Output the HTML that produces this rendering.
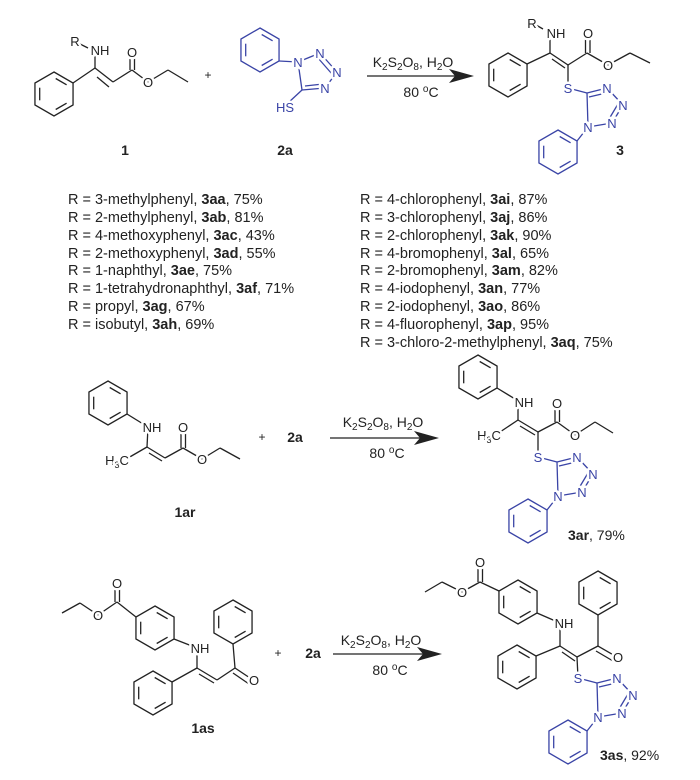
<!DOCTYPE html>
<html><head><meta charset="utf-8"><style>
html,body{margin:0;padding:0;background:#fff;}
svg{display:block;}
text{font-family:"Liberation Sans",sans-serif;}
.k line,.k polyline{stroke:#222;stroke-width:1.3;fill:none;}
.b line{stroke:#3a44a6;stroke-width:1.3;fill:none;}
.lab{font-size:13px;fill:#222;text-anchor:middle;paint-order:stroke;stroke:#fff;stroke-width:5px;stroke-linejoin:round;}
.bl{font-size:13px;fill:#3a44a6;text-anchor:middle;paint-order:stroke;stroke:#fff;stroke-width:5px;stroke-linejoin:round;}
.lst{font-size:14.5px;fill:#222;}
.cmp{font-size:14px;font-weight:bold;fill:#222;text-anchor:middle;}
.cond{font-size:14px;fill:#222;text-anchor:middle;}
</style></head><body>
<svg width="700" height="780" viewBox="0 0 700 780" xmlns="http://www.w3.org/2000/svg">
<defs>
<g id="bz">
<polygon points="0,-22 19.05,-11 19.05,11 0,22 -19.05,11 -19.05,-11" fill="none" stroke-width="1.3"/>
<line x1="1.7" y1="-15.5" x2="12.6" y2="-9.2" stroke-width="1.3"/>
<line x1="12.6" y1="9.2" x2="1.7" y2="15.5" stroke-width="1.3"/>
<line x1="-14.3" y1="6.3" x2="-14.3" y2="-6.3" stroke-width="1.3"/>
</g>
</defs>

<!-- ===== Compound 1 ===== -->
<g class="k">
<use href="#bz" transform="translate(54,94)" stroke="#222"/>
<line x1="73" y1="83" x2="95" y2="68"/>
<line x1="95" y1="68" x2="95" y2="50"/>
<line x1="80" y1="44" x2="88" y2="48"/>
<line x1="95" y1="68" x2="113" y2="82"/>
<line x1="99" y1="74" x2="111" y2="84" transform="translate(-2,3)"/>
<line x1="113" y1="82" x2="132" y2="70"/>
<line x1="130" y1="70" x2="130" y2="52"/><line x1="134.5" y1="70" x2="134.5" y2="52"/>
<line x1="132" y1="70" x2="148" y2="82"/>
<line x1="148" y1="82" x2="168" y2="70"/>
<line x1="168" y1="70" x2="188" y2="82"/>
</g>
<text class="lab" x="75" y="46">R</text>
<text class="lab" x="100" y="55">NH</text>
<text class="lab" x="132" y="57">O</text>
<text class="lab" x="148" y="87">O</text>
<text class="cond" x="208" y="79" style="font-size:12px">+</text>
<text class="cmp" x="125" y="155">1</text>

<!-- ===== 2a ===== -->
<g class="b">
<use href="#bz" transform="translate(260,50)" stroke="#3a44a6"/>
<line x1="279" y1="61" x2="298" y2="62"/>
<line x1="298" y1="62" x2="320" y2="53"/>
<line x1="320" y1="53" x2="337" y2="72"/><line x1="318" y1="58" x2="332" y2="74"/>
<line x1="337" y1="72" x2="325" y2="88"/>
<line x1="325" y1="88" x2="302" y2="90"/><line x1="323" y1="84" x2="305" y2="86"/>
<line x1="302" y1="90" x2="298" y2="62"/>
<line x1="302" y1="90" x2="288" y2="103"/>
</g>
<text class="bl" x="298" y="67">N</text>
<text class="bl" x="320" y="58">N</text>
<text class="bl" x="337" y="77">N</text>
<text class="bl" x="325" y="93">N</text>
<text class="bl" x="285" y="112">HS</text>
<text class="cmp" x="285" y="155">2a</text>

<!-- arrow 1 -->
<g class="k"><line x1="367" y1="76" x2="460" y2="76"/></g>
<polygon points="474,76 449,69 455,76 449,83" fill="#222"/>
<text class="cond" x="413" y="67">K<tspan font-size="10" dy="3">2</tspan><tspan dy="-3">S</tspan><tspan font-size="10" dy="3">2</tspan><tspan dy="-3">O</tspan><tspan font-size="10" dy="3">8</tspan><tspan dy="-3">, H</tspan><tspan font-size="10" dy="3">2</tspan><tspan dy="-3">O</tspan></text>
<text class="cond" x="421" y="97">80 <tspan font-size="10" dy="-5">o</tspan><tspan dy="5">C</tspan></text>

<!-- ===== Product 3 ===== -->
<g class="k">
<use href="#bz" transform="translate(508,75)" stroke="#222"/>
<line x1="527" y1="64" x2="550" y2="53"/>
<line x1="550" y1="53" x2="550" y2="35"/>
<line x1="536" y1="25" x2="543" y2="29"/>
<line x1="550" y1="53" x2="568" y2="65"/><line x1="552" y1="59" x2="565" y2="68"/>
<line x1="568" y1="65" x2="587" y2="53"/>
<line x1="585.5" y1="53" x2="585.5" y2="34"/><line x1="590" y1="53" x2="590" y2="34"/>
<line x1="587" y1="53" x2="608" y2="65"/>
<line x1="608" y1="65" x2="630" y2="53"/>
<line x1="630" y1="53" x2="650" y2="63"/>
<line x1="568" y1="65" x2="568" y2="88"/>
</g>
<text class="lab" x="532" y="28">R</text>
<text class="lab" x="556" y="38">NH</text>
<text class="lab" x="588" y="38">O</text>
<text class="lab" x="608" y="70">O</text>
<g transform="translate(568,88)">
<g class="b">
<line x1="0" y1="0" x2="19" y2="5"/>
<line x1="19" y1="5" x2="39" y2="0"/><line x1="21" y1="9" x2="38" y2="5"/>
<line x1="39" y1="0" x2="55" y2="17"/>
<line x1="55" y1="17" x2="44" y2="35"/><line x1="50" y1="16" x2="41" y2="31"/>
<line x1="44" y1="35" x2="20" y2="39"/>
<line x1="20" y1="39" x2="19" y2="5"/>
<line x1="20" y1="39" x2="9" y2="53"/>
<use href="#bz" transform="translate(-10,64)" stroke="#3a44a6"/>
</g>
<text class="bl" x="0" y="5">S</text>
<text class="bl" x="39" y="5">N</text>
<text class="bl" x="55" y="22">N</text>
<text class="bl" x="44" y="40">N</text>
<text class="bl" x="20" y="44">N</text>
</g>
<text class="cmp" x="620" y="155">3</text>

<!-- ===== List ===== -->
<g class="lst">
<text x="68" y="204">R = 3-methylphenyl, <tspan font-weight="bold">3aa</tspan>, 75%</text>
<text x="68" y="222">R = 2-methylphenyl, <tspan font-weight="bold">3ab</tspan>, 81%</text>
<text x="68" y="240">R = 4-methoxyphenyl, <tspan font-weight="bold">3ac</tspan>, 43%</text>
<text x="68" y="258">R = 2-methoxyphenyl, <tspan font-weight="bold">3ad</tspan>, 55%</text>
<text x="68" y="275">R = 1-naphthyl, <tspan font-weight="bold">3ae</tspan>, 75%</text>
<text x="68" y="293">R = 1-tetrahydronaphthyl, <tspan font-weight="bold">3af</tspan>, 71%</text>
<text x="68" y="311">R = propyl, <tspan font-weight="bold">3ag</tspan>, 67%</text>
<text x="68" y="329">R = isobutyl, <tspan font-weight="bold">3ah</tspan>, 69%</text>
<text x="360" y="204">R = 4-chlorophenyl, <tspan font-weight="bold">3ai</tspan>, 87%</text>
<text x="360" y="222">R = 3-chlorophenyl, <tspan font-weight="bold">3aj</tspan>, 86%</text>
<text x="360" y="240">R = 2-chlorophenyl, <tspan font-weight="bold">3ak</tspan>, 90%</text>
<text x="360" y="258">R = 4-bromophenyl, <tspan font-weight="bold">3al</tspan>, 65%</text>
<text x="360" y="275">R = 2-bromophenyl, <tspan font-weight="bold">3am</tspan>, 82%</text>
<text x="360" y="293">R = 4-iodophenyl, <tspan font-weight="bold">3an</tspan>, 77%</text>
<text x="360" y="311">R = 2-iodophenyl, <tspan font-weight="bold">3ao</tspan>, 86%</text>
<text x="360" y="329">R = 4-fluorophenyl, <tspan font-weight="bold">3ap</tspan>, 95%</text>
<text x="360" y="347">R = 3-chloro-2-methylphenyl, <tspan font-weight="bold">3aq</tspan>, 75%</text>
</g>

<!-- ===== 1ar ===== -->
<g class="k">
<use href="#bz" transform="translate(108,403)" stroke="#222"/>
<line x1="127" y1="414" x2="148" y2="427"/>
<line x1="148" y1="427" x2="147" y2="447"/>
<line x1="147" y1="447" x2="128" y2="458"/>
<line x1="147" y1="447" x2="165" y2="458"/><line x1="149" y1="453" x2="162" y2="461"/>
<line x1="165" y1="458" x2="183" y2="448"/>
<line x1="181" y1="448" x2="181" y2="428"/><line x1="185.5" y1="448" x2="185.5" y2="428"/>
<line x1="183" y1="448" x2="202" y2="459"/>
<line x1="202" y1="459" x2="220" y2="448"/>
<line x1="220" y1="448" x2="240" y2="459"/>
</g>
<text class="lab" x="152" y="432">NH</text>
<text class="lab" x="183" y="432">O</text>
<text class="lab" x="202" y="464">O</text>
<text class="lab" x="117" y="465">H<tspan font-size="9" dy="3">3</tspan><tspan dy="-3">C</tspan></text>
<text class="cond" x="262" y="441" style="font-size:12px">+</text>
<text class="cmp" x="295" y="442">2a</text>
<text class="cmp" x="185" y="517">1ar</text>

<g class="k"><line x1="330" y1="438" x2="425" y2="438"/></g>
<polygon points="439,438 414,431 420,438 414,445" fill="#222"/>
<text class="cond" x="383" y="427">K<tspan font-size="10" dy="3">2</tspan><tspan dy="-3">S</tspan><tspan font-size="10" dy="3">2</tspan><tspan dy="-3">O</tspan><tspan font-size="10" dy="3">8</tspan><tspan dy="-3">, H</tspan><tspan font-size="10" dy="3">2</tspan><tspan dy="-3">O</tspan></text>
<text class="cond" x="387" y="458">80 <tspan font-size="10" dy="-5">o</tspan><tspan dy="5">C</tspan></text>

<!-- ===== 3ar ===== -->
<g class="k">
<use href="#bz" transform="translate(478,377)" stroke="#222"/>
<line x1="497" y1="388" x2="520" y2="402"/>
<line x1="518" y1="402" x2="518" y2="420"/>
<line x1="518" y1="420" x2="500" y2="432"/>
<line x1="518" y1="420" x2="538" y2="432"/><line x1="520" y1="426" x2="535" y2="435"/>
<line x1="538" y1="432" x2="557" y2="422"/>
<line x1="555" y1="422" x2="555" y2="404"/><line x1="559.5" y1="422" x2="559.5" y2="404"/>
<line x1="557" y1="422" x2="575" y2="435"/>
<line x1="575" y1="435" x2="595" y2="422"/>
<line x1="595" y1="422" x2="613" y2="433"/>
<line x1="538" y1="432" x2="538" y2="457"/>
</g>
<text class="lab" x="524" y="407">NH</text>
<text class="lab" x="557" y="408">O</text>
<text class="lab" x="575" y="440">O</text>
<text class="lab" x="489" y="440">H<tspan font-size="9" dy="3">3</tspan><tspan dy="-3">C</tspan></text>
<g transform="translate(538,457)">
<g class="b">
<line x1="0" y1="0" x2="19" y2="5"/>
<line x1="19" y1="5" x2="39" y2="0"/><line x1="21" y1="9" x2="38" y2="5"/>
<line x1="39" y1="0" x2="55" y2="17"/>
<line x1="55" y1="17" x2="44" y2="35"/><line x1="50" y1="16" x2="41" y2="31"/>
<line x1="44" y1="35" x2="20" y2="39"/>
<line x1="20" y1="39" x2="19" y2="5"/>
<line x1="20" y1="39" x2="9" y2="53"/>
<use href="#bz" transform="translate(-10,64)" stroke="#3a44a6"/>
</g>
<text class="bl" x="0" y="5">S</text>
<text class="bl" x="39" y="5">N</text>
<text class="bl" x="55" y="22">N</text>
<text class="bl" x="44" y="40">N</text>
<text class="bl" x="20" y="44">N</text>
</g>
<text x="568" y="540" style="font-size:14px;fill:#222"><tspan font-weight="bold">3ar</tspan>, 79%</text>

<!-- ===== 1as ===== -->
<g class="k">
<use href="#bz" transform="translate(155,628)" stroke="#222"/>
<line x1="136" y1="617" x2="117" y2="602"/>
<line x1="115" y1="602" x2="115" y2="584"/><line x1="119.5" y1="602" x2="119.5" y2="584"/>
<line x1="117" y1="602" x2="98" y2="615"/>
<line x1="98" y1="615" x2="80" y2="603"/>
<line x1="80" y1="603" x2="62" y2="613"/>
<line x1="174" y1="639" x2="197" y2="648"/>
<line x1="197" y1="648" x2="197" y2="668"/>
<use href="#bz" transform="translate(153,693)" stroke="#222"/>
<line x1="172" y1="682" x2="197" y2="668"/>
<line x1="197" y1="668" x2="217" y2="680"/><line x1="199" y1="674" x2="214" y2="683"/>
<line x1="217" y1="680" x2="235" y2="668"/>
<line x1="235" y1="668" x2="253" y2="680"/><line x1="233" y1="673" x2="249" y2="684"/>
<line x1="235" y1="668" x2="233" y2="644"/>
<use href="#bz" transform="translate(233,622)" stroke="#222"/>
</g>
<text class="lab" x="117" y="588">O</text>
<text class="lab" x="98" y="620">O</text>
<text class="lab" x="200" y="653">NH</text>
<text class="lab" x="254" y="685">O</text>
<text class="cond" x="278" y="657" style="font-size:12px">+</text>
<text class="cmp" x="313" y="658">2a</text>
<text class="cmp" x="203" y="733">1as</text>

<g class="k"><line x1="333" y1="654" x2="428" y2="654"/></g>
<polygon points="442,654 417,647 423,654 417,661" fill="#222"/>
<text class="cond" x="381" y="645">K<tspan font-size="10" dy="3">2</tspan><tspan dy="-3">S</tspan><tspan font-size="10" dy="3">2</tspan><tspan dy="-3">O</tspan><tspan font-size="10" dy="3">8</tspan><tspan dy="-3">, H</tspan><tspan font-size="10" dy="3">2</tspan><tspan dy="-3">O</tspan></text>
<text class="cond" x="390" y="675">80 <tspan font-size="10" dy="-5">o</tspan><tspan dy="5">C</tspan></text>

<!-- ===== 3as ===== -->
<g class="k">
<line x1="425" y1="592" x2="442" y2="582"/>
<line x1="442" y1="582" x2="462" y2="592"/>
<line x1="462" y1="592" x2="480" y2="582"/>
<line x1="478" y1="582" x2="478" y2="564"/><line x1="482.5" y1="582" x2="482.5" y2="564"/>
<line x1="480" y1="582" x2="499" y2="591"/>
<use href="#bz" transform="translate(518,602)" stroke="#222"/>
<line x1="537" y1="613" x2="560" y2="623"/>
<line x1="560" y1="623" x2="560" y2="646"/>
<use href="#bz" transform="translate(517,667)" stroke="#222"/>
<line x1="536" y1="656" x2="560" y2="646"/>
<line x1="560" y1="646" x2="577" y2="657"/><line x1="562" y1="652" x2="575" y2="661"/>
<line x1="577" y1="657" x2="598" y2="646"/>
<line x1="598" y1="646" x2="617" y2="657"/><line x1="596" y1="651" x2="613" y2="661"/>
<line x1="598" y1="646" x2="598" y2="615"/>
<use href="#bz" transform="translate(598,593)" stroke="#222"/>
<line x1="577" y1="657" x2="578" y2="678"/>
</g>
<text class="lab" x="480" y="567">O</text>
<text class="lab" x="462" y="597">O</text>
<text class="lab" x="564" y="628">NH</text>
<text class="lab" x="618" y="662">O</text>
<g transform="translate(578,678)">
<g class="b">
<line x1="0" y1="0" x2="19" y2="5"/>
<line x1="19" y1="5" x2="39" y2="0"/><line x1="21" y1="9" x2="38" y2="5"/>
<line x1="39" y1="0" x2="55" y2="17"/>
<line x1="55" y1="17" x2="44" y2="35"/><line x1="50" y1="16" x2="41" y2="31"/>
<line x1="44" y1="35" x2="20" y2="39"/>
<line x1="20" y1="39" x2="19" y2="5"/>
<line x1="20" y1="39" x2="9" y2="53"/>
<use href="#bz" transform="translate(-10,64)" stroke="#3a44a6"/>
</g>
<text class="bl" x="0" y="5">S</text>
<text class="bl" x="39" y="5">N</text>
<text class="bl" x="55" y="22">N</text>
<text class="bl" x="44" y="40">N</text>
<text class="bl" x="20" y="44">N</text>
</g>
<text x="600" y="760" style="font-size:14px;fill:#222"><tspan font-weight="bold">3as</tspan>, 92%</text>
</svg>
</body></html>
